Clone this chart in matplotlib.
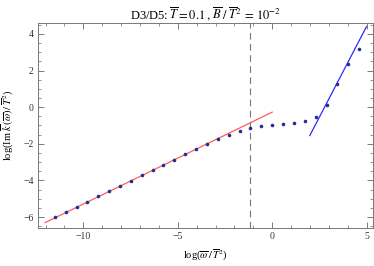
import numpy as np
import matplotlib
matplotlib.use("Agg")
import matplotlib.pyplot as plt
from matplotlib.ticker import MultipleLocator

# log(omega/T^2) sample points and log(Im k / T^2)
x_pts = [-11.51, -10.94, -10.36, -9.79, -9.21, -8.63, -8.06, -7.48, -6.91,
         -6.33, -5.76, -5.18, -4.61, -4.03, -3.45, -2.88, -2.30, -1.73,
         -1.15, -0.58, 0.0, 0.58, 1.15, 1.73, 2.30, 2.88, 3.45, 4.03, 4.61]
y_pts = [-6.01, -5.74, -5.45, -5.16, -4.86, -4.59, -4.30, -4.01, -3.72,
         -3.43, -3.15, -2.88, -2.57, -2.30, -2.02, -1.75, -1.51, -1.30,
         -1.11, -1.01, -0.95, -0.91, -0.86, -0.77, -0.51, 0.14, 1.29, 2.37, 3.19]

# asymptotic fits
low_x = [-12.03, 0.0]
low_y = [-6.31, -0.27]
high_x = [1.99, 4.99]
high_y = [-1.55, 4.40]

x_cut = -1.2

plt.rcParams["font.family"] = ["Liberation Serif", "DejaVu Serif"]
plt.rcParams["mathtext.fontset"] = "stix"

fig = plt.figure(figsize=(3.74, 2.66), dpi=100)
ax = fig.add_axes([0.1016, 0.1429, 0.8954, 0.7706])

ax.plot(low_x, low_y, color="#ff5c5c", lw=0.9)
ax.plot(high_x, high_y, color="#2b2bff", lw=0.9)
ax.axvline(x_cut, color="#777777", lw=0.8, ls=(0, (6, 4)))
ax.plot(x_pts, y_pts, "o", color="#2a2a9a", ms=2.6, mew=0)

ax.set_xlim(-12.4, 5.33)
ax.set_ylim(-6.6, 4.6)
ax.xaxis.set_major_locator(MultipleLocator(5))
ax.xaxis.set_minor_locator(MultipleLocator(1))
ax.yaxis.set_major_locator(MultipleLocator(2))
ax.yaxis.set_minor_locator(MultipleLocator(0.5))
ax.tick_params(which="both", direction="in", top=True, right=True,
               colors="#666666", labelcolor="#333333", labelsize=7, pad=3)
ax.tick_params(which="major", length=4, width=0.6)
ax.tick_params(which="minor", length=2, width=0.5)
for s in ax.spines.values():
    s.set_color("#777777")
    s.set_linewidth(0.7)

ax.set_title(r"D3/D5: $\overline{T}=0.1\,,\,\overline{B}\;/\;\overline{T}^2\,=\,10^{-2}$",
             fontsize=9, pad=3)
ax.set_xlabel(r"log($\overline{\omega}\,/\,\overline{T}^2$)", fontsize=7.5, labelpad=5)
ax.set_ylabel(r"log(Im $\overline{k}\,(\overline{\omega})\,/\,\overline{T}^2$)", fontsize=7.5, labelpad=5)

fig.savefig("out.png", dpi=100)
